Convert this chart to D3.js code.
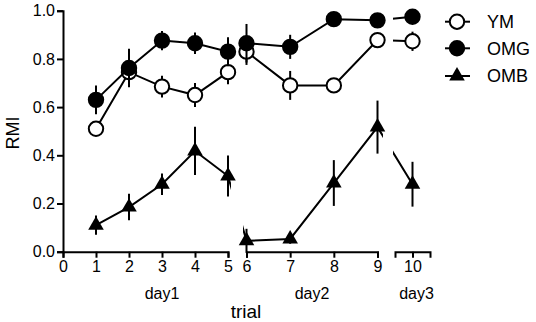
<!DOCTYPE html>
<html>
<head>
<meta charset="utf-8">
<script src="https://cdn.jsdelivr.net/npm/d3@7"></script>
<style>
  body { margin: 0; background: #fff; }
  svg text { font-family: "Liberation Sans", Arial, sans-serif; fill: #000; }
</style>
</head>
<body>
<div class="grafico"></div>
<script>
var ancho = 536;
var alto = 322;

// datos
var trials = [1, 2, 3, 4, 5, 6, 7, 8, 9, 10];
var ymMedia = [0.51, 0.745, 0.685, 0.65, 0.745, 0.83, 0.69, 0.69, 0.878, 0.873];
var ymError = [0.02, 0.06, 0.045, 0.05, 0.05, 0.055, 0.06, 0.02, 0.03, 0.04];
var omgMedia = [0.63, 0.762, 0.876, 0.865, 0.83, 0.865, 0.85, 0.965, 0.96, 0.975];
var omgError = [0.06, 0.08, 0.04, 0.045, 0.06, 0.08, 0.05, 0.015, 0.015, 0.02];
var ombMedia = [0.11, 0.185, 0.28, 0.418, 0.314, 0.045, 0.053, 0.285, 0.517, 0.28];
var ombError = [0.04, 0.055, 0.045, 0.1, 0.085, 0.05, 0.02, 0.095, 0.11, 0.093];
var yTicks = [0, 0.2, 0.4, 0.6, 0.8, 1.0];
var dias = ["day1", "day2", "day3"];
var nombres = ["YM", "OMG", "OMB"];

var svg = d3.select('.grafico')
  .append('svg')
  .attr('width', ancho)
  .attr('height', alto);

// eje x partido en tres tramos (uno por dia)
var x1 = d3.scaleLinear().domain([0, 5]).range([63, 228]);
var x2 = d3.scaleLinear().domain([6, 9]).range([246.5, 377.5]);
var x3 = d3.scaleLinear().domain([9.6, 10.4]).range([395, 430]);

function xPos(t) {
  if (t <= 5) return x1(t);
  if (t <= 9) return x2(t);
  return x3(t);
}

var yScale = d3.scaleLinear().domain([0, 1]).range([251.7, 10.7]);

var formatoX = d3.format('d');
var ejeX1 = d3.axisBottom(x1).tickValues([0, 1, 2, 3, 4, 5]).tickFormat(formatoX).tickSizeOuter(0).tickSize(6);
var ejeX2 = d3.axisBottom(x2).tickValues([6, 7, 8, 9]).tickFormat(formatoX).tickSizeOuter(0).tickSize(6);
var ejeX3 = d3.axisBottom(x3).tickValues([10]).tickFormat(formatoX).tickSizeOuter(0).tickSize(6);
var ejeY = d3.axisLeft(yScale).tickValues(yTicks).tickFormat(d3.format('.1f')).tickSizeOuter(0).tickSize(6);

[ejeX1, ejeX2, ejeX3].forEach(function (eje) {
  svg.append('g')
    .attr('class', 'eje ejex')
    .attr('transform', 'translate(0,' + yScale(0) + ')')
    .call(eje);
});

svg.append('g')
  .attr('class', 'eje ejey')
  .attr('transform', 'translate(' + x1(0) + ',0)')
  .call(ejeY);

svg.selectAll('.eje path, .eje line')
  .attr('stroke', '#000')
  .attr('stroke-width', 2);
svg.selectAll('.eje text')
  .style('font-size', '16px');
svg.selectAll('.ejex text').attr('y', 9);
svg.selectAll('.ejey text').attr('x', -8);

// etiquetas de los dias y titulos
var centrosDia = [x1(3), (x2(7) + x2(8)) / 2, x3(10) + 4];
svg.selectAll('.dia')
  .data(dias)
  .enter()
  .append('text')
  .attr('class', 'dia')
  .attr('x', function (d, i) { return centrosDia[i]; })
  .attr('y', 299)
  .attr('text-anchor', 'middle')
  .style('font-size', '16px')
  .text(function (d) { return d; });

svg.append('text')
  .attr('x', 246)
  .attr('y', 318)
  .attr('text-anchor', 'middle')
  .style('font-size', '19px')
  .text('trial');

svg.append('text')
  .attr('transform', 'translate(19,133) rotate(-90)')
  .attr('text-anchor', 'middle')
  .style('font-size', '18px')
  .text('RMI');

// recorte de las lineas segun los tramos del eje
var clip = svg.append('clipPath').attr('id', 'tramos');
[[0, 231], [243, 383], [393, 536]].forEach(function (r) {
  clip.append('rect')
    .attr('x', r[0]).attr('y', 0)
    .attr('width', r[1] - r[0]).attr('height', alto);
});

var series = [
  { nombre: 'YM', media: ymMedia, error: ymError, forma: 'circulo', relleno: '#fff' },
  { nombre: 'OMG', media: omgMedia, error: omgError, forma: 'circulo', relleno: '#000' },
  { nombre: 'OMB', media: ombMedia, error: ombError, forma: 'triangulo', relleno: '#000' }
];

var linea = d3.line()
  .x(function (d) { return xPos(d.t); })
  .y(function (d) { return yScale(d.v); });

var triangulo = d3.symbol().type(d3.symbolTriangle).size(105);

function dibujarMarca(g, s) {
  if (s.forma === 'circulo') {
    g.append('circle')
      .attr('r', 7.2)
      .attr('fill', s.relleno)
      .attr('stroke', '#000')
      .attr('stroke-width', 2);
  } else {
    g.append('path')
      .attr('d', triangulo())
      .attr('fill', '#000');
  }
}

series.forEach(function (s) {
  var puntos = trials.map(function (t, i) {
    return { t: t, v: s.media[i], e: s.error[i] };
  });

  var g = svg.append('g').attr('class', 'serie');

  g.selectAll('.barra')
    .data(puntos)
    .enter()
    .append('line')
    .attr('class', 'barra')
    .attr('x1', function (d) { return xPos(d.t); })
    .attr('x2', function (d) { return xPos(d.t); })
    .attr('y1', function (d) { return yScale(d.v + d.e); })
    .attr('y2', function (d) { return yScale(d.v - d.e); })
    .attr('stroke', '#000')
    .attr('stroke-width', 2);

  g.append('path')
    .datum(puntos)
    .attr('d', linea)
    .attr('fill', 'none')
    .attr('stroke', '#000')
    .attr('stroke-width', 2)
    .attr('clip-path', 'url(#tramos)');

  g.selectAll('.marca')
    .data(puntos)
    .enter()
    .append('g')
    .attr('class', 'marca')
    .attr('transform', function (d) {
      return 'translate(' + xPos(d.t) + ',' + yScale(d.v) + ')';
    })
    .each(function () { dibujarMarca(d3.select(this), s); });
});

// leyenda
var leyendaY = [21.7, 48.3, 76];
series.forEach(function (s, i) {
  var g = svg.append('g')
    .attr('transform', 'translate(457,' + leyendaY[i] + ')');
  g.append('line')
    .attr('x1', -12).attr('x2', 13)
    .attr('stroke', '#000')
    .attr('stroke-width', 2);
  dibujarMarca(g, s);
  g.append('text')
    .attr('x', 30)
    .attr('dy', '0.36em')
    .style('font-size', '18px')
    .text(nombres[i]);
});
</script>
</body>
</html>
